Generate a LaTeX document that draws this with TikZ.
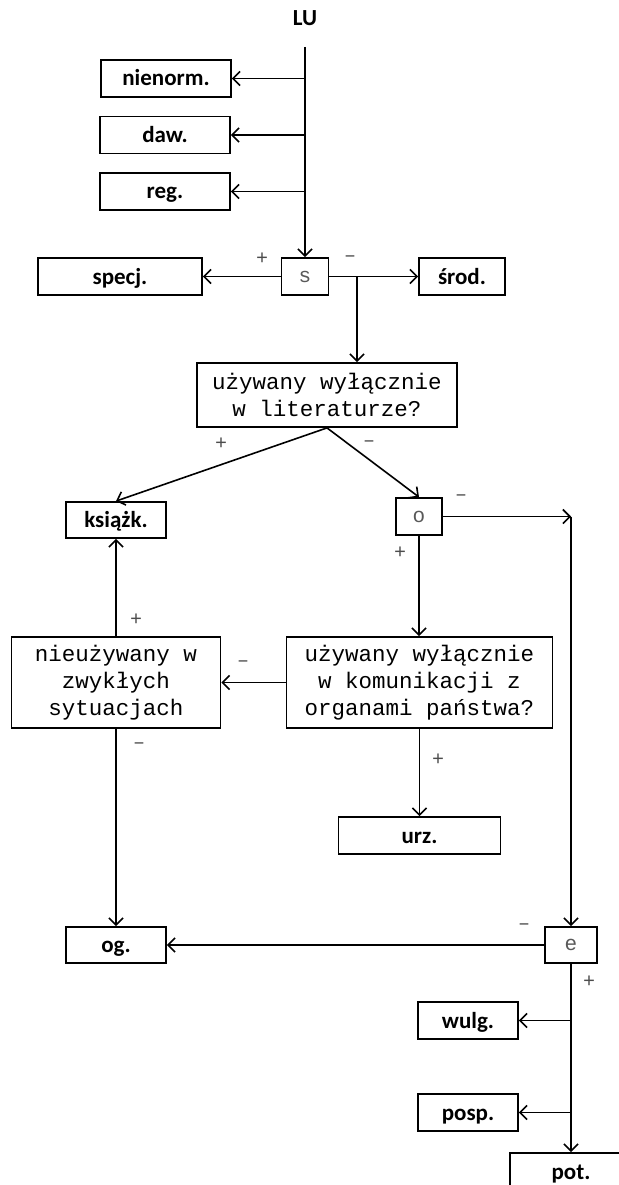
\documentclass[tikz,border=0pt]{standalone}
\usepackage{fontspec}
\setmainfont{Carlito}
\newfontfamily\courier{Liberation Mono}
\usetikzlibrary{arrows.meta}

\begin{document}
\begin{tikzpicture}[x=1pt,y=-1pt,line width=1.8pt,
  box/.style={draw,font=\fontsize{23}{27}\selectfont\bfseries,inner sep=0pt,minimum height=37pt,text height=19pt,text depth=4pt},
  ask/.style={draw,font=\courier\fontsize{22.5}{27}\selectfont,align=center,inner sep=0pt},
  gate/.style={draw,font=\courier\fontsize{21}{24}\selectfont,text=black!65,inner sep=0pt,minimum height=37pt},
  sgn/.style={font=\courier\fontsize{20}{22}\selectfont,text=black!70},
  arr/.style={-{Straight Barb[length=7pt,width=14pt]},line width=1.6pt}]
\useasboundingbox (0,0) rectangle (618,1185);

% Top part
\node[font=\fontsize{23}{27}\selectfont\bfseries] (LU) at (305,18) {LU};
\node[box,minimum width=130pt] (nienorm) at (166,78.5) {nienorm.};
\node[box,minimum width=130pt] (daw) at (165,135) {daw.};
\node[box,minimum width=130pt] (reg) at (165,191.5) {reg.};
\node[gate,minimum width=47pt] (s) at (305,276.5) {s};
\node[box,minimum width=164pt] (specj) at (120,276.5) {specj.};
\node[box,minimum width=86pt] (srod) at (462,276.5) {środ.};
\coordinate (sq) at (357,276.5);

\draw[arr,shorten <=17pt] (LU) -- (s);
\draw[arr] (LU |- nienorm) -- (nienorm);
\draw[arr] (LU |- daw) -- (daw);
\draw[arr] (LU |- reg) -- (reg);
\draw[arr] (s) -- (specj);
\draw[arr] (s) -- (srod);
\node[sgn] (sp) at (262,259) {+};
\node[sgn] (sm) at (350,259) {–};

% Middle part
\node[ask,minimum width=260pt,minimum height=64pt] (q1) at (327,395) {używany wyłącznie\\w literaturze?};
\node[box,minimum width=100pt,minimum height=36pt] (ksiazk) at (116,520) {książk.};
\node[gate,minimum width=46pt] (o) at (419,516.5) {o};
\coordinate (oe) at (571,516.5);
\node[ask,minimum width=266pt,minimum height=91pt] (q2) at (419.5,682.5) {używany wyłącznie\\w komunikacji z\\organami państwa?};
\node[ask,minimum width=209pt,minimum height=91pt] (nieuz) at (116,682.5) {nieużywany w\\zwykłych\\sytuacjach};
\node[box,minimum width=162pt] (urz) at (419.5,835.5) {urz.};

\draw[arr] (sq) -- (sq |- q1.north);
\draw[arr] (q1.south) -- (ksiazk.north);
\draw[arr] (q1.south) -- (o.north);
\draw[arr] (o) -- (oe);
\draw[arr] (o.south) -- (o |- q2.north);
\draw[arr] (q2) -- (nieuz);
\draw[arr] (nieuz) -- (ksiazk);
\draw[arr] (q2) -- (urz);
\node[sgn] (q1p) at (221,444) {+};
\node[sgn] (q1m) at (369,444) {–};
\node[sgn] (om) at (461,498) {–};
\node[sgn] (op) at (400,553) {+};
\node[sgn] (np) at (136,620) {+};
\node[sgn] (nm) at (139,746) {–};
\node[sgn] (q2m) at (243,664) {–};
\node[sgn] (q2p) at (438,760) {+};

% Bottom part
\node[box,minimum width=100pt,minimum height=36pt] (og) at (116,945) {og.};
\node[gate,minimum width=52pt,minimum height=36pt] (e) at (571,945) {e};
\node[box,minimum width=100pt] (wulg) at (468,1020.5) {wulg.};
\node[box,minimum width=100pt] (posp) at (468,1112.5) {posp.};
\node[box,minimum width=122pt] (pot) at (571,1171.5) {pot.};

\draw[arr] (nieuz) -- (og);
\draw[arr] (oe) -- (e);
\draw[arr] (e) -- (og);
\draw[arr] (e) -- (pot);
\draw[arr] (e |- wulg) -- (wulg);
\draw[arr] (e |- posp) -- (posp);
\node[sgn] (em) at (524,927) {–};
\node[sgn] (ep) at (589,982) {+};
\end{tikzpicture}
\end{document}
